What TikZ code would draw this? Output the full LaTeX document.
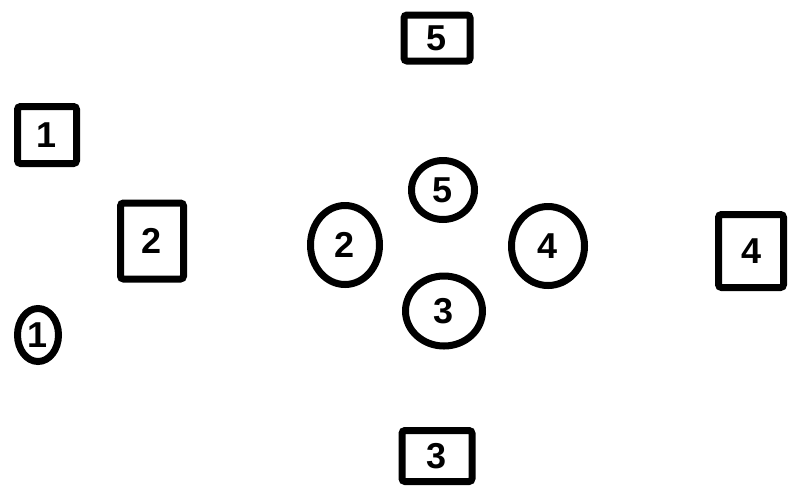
\documentclass[tikz,border=0pt]{standalone}
\usepackage{fontspec}
\setmainfont{Liberation Sans}
\usetikzlibrary{shapes.geometric}
\begin{document}
\begin{tikzpicture}[x=1pt,y=-1pt,
  box/.style={draw=black,line width=7pt,rounded corners=3pt,rectangle,inner sep=0pt,font=\fontsize{36}{36}\selectfont\bfseries},
  ring/.style={draw=black,line width=7pt,ellipse,inner sep=0pt,font=\fontsize{36}{36}\selectfont\bfseries}]
\useasboundingbox[fill=white] (0,0) rectangle (789,491);
\node[box,minimum width=66pt,minimum height=46pt] (s5) at (437,38) {5};
\node[box,minimum width=59pt,minimum height=57pt] (s1) at (47,135) {1};
\node[box,minimum width=63pt,minimum height=76pt] (s2) at (152,241) {2};
\node[box,minimum width=65pt,minimum height=73pt] (s4) at (751,251) {4};
\node[box,minimum width=70pt,minimum height=51pt] (s3) at (437,456) {3};
\node[ring,minimum width=41pt,minimum height=53pt] (c1) at (38,335) {1};
\node[ring,minimum width=69pt,minimum height=79pt] (c2) at (345,245) {2};
\node[ring,minimum width=63pt,minimum height=59pt] (c5) at (443,190) {5};
\node[ring,minimum width=73pt,minimum height=79pt] (c4) at (548,246) {4};
\node[ring,minimum width=77pt,minimum height=70pt] (c3) at (444,311) {3};
\end{tikzpicture}
\end{document}
